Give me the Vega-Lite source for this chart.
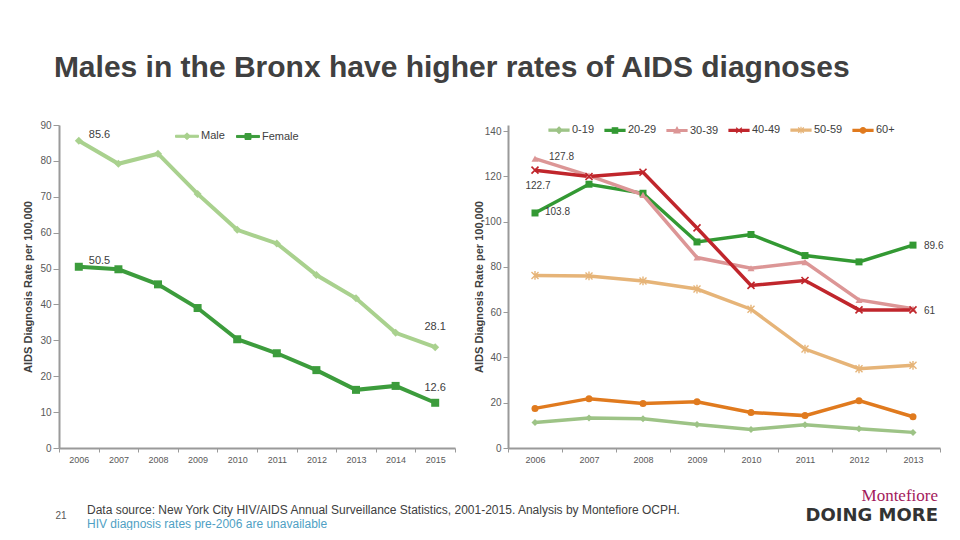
{
  "$schema": "https://vega.github.io/schema/vega-lite/v6.json",
  "background": "white",
  "padding": {"left": 22, "top": 53, "right": 0, "bottom": 0},
  "autosize": {"type": "pad"},
  "title": {
    "text": "Males in the Bronx have higher rates of AIDS diagnoses",
    "anchor": "start", "frame": "bounds", "dx": 31, "offset": 36,
    "fontSize": 30, "fontWeight": "bold", "color": "#404040", "font": "Liberation Sans"
  },
  "spacing": 53,
  "bounds": "flush",
  "resolve": {"scale": {"color": "independent"}, "legend": {"color": "independent"}},
  "hconcat": [
    {
      "width": 396, "height": 323,
      "title": {
        "text": "Data source: New York City HIV/AIDS Annual Surveillance Statistics, 2001-2015. Analysis by Montefiore OCPH.",
        "subtitle": "HIV diagnosis rates pre-2006 are unavailable",
        "orient": "bottom", "anchor": "start", "frame": "group", "dx": 28, "offset": -16,
        "fontSize": 12, "fontWeight": "normal", "color": "#404040", "font": "Liberation Sans",
        "subtitleColor": "#4f9fc4", "subtitleFontSize": 12, "subtitleFont": "Liberation Sans", "subtitlePadding": 2
      },
      "data": {"values": [
        {"year": "2006", "sex": "Male", "rate": 85.6},
        {"year": "2007", "sex": "Male", "rate": 79.2},
        {"year": "2008", "sex": "Male", "rate": 82.0},
        {"year": "2009", "sex": "Male", "rate": 70.8},
        {"year": "2010", "sex": "Male", "rate": 60.8},
        {"year": "2011", "sex": "Male", "rate": 57.0},
        {"year": "2012", "sex": "Male", "rate": 48.2},
        {"year": "2013", "sex": "Male", "rate": 41.7},
        {"year": "2014", "sex": "Male", "rate": 32.1},
        {"year": "2015", "sex": "Male", "rate": 28.1},
        {"year": "2006", "sex": "Female", "rate": 50.5},
        {"year": "2007", "sex": "Female", "rate": 49.8},
        {"year": "2008", "sex": "Female", "rate": 45.6},
        {"year": "2009", "sex": "Female", "rate": 39.0},
        {"year": "2010", "sex": "Female", "rate": 30.3},
        {"year": "2011", "sex": "Female", "rate": 26.4},
        {"year": "2012", "sex": "Female", "rate": 21.7},
        {"year": "2013", "sex": "Female", "rate": 16.2},
        {"year": "2014", "sex": "Female", "rate": 17.3},
        {"year": "2015", "sex": "Female", "rate": 12.6}
      ]},
      "encoding": {
        "x": {"field": "year", "type": "ordinal", "scale": {"type": "band", "paddingInner": 0, "paddingOuter": 0},
              "axis": {"title": null, "labelAngle": 0, "tickBand": "extent", "tickSize": 4, "labelPadding": 3, "labelFontSize": 9}},
        "y": {"field": "rate", "type": "quantitative", "scale": {"domain": [0, 90], "nice": false},
              "axis": {"title": "AIDS Diagnosis Rate per 100,000", "values": [0, 10, 20, 30, 40, 50, 60, 70, 80, 90], "tickSize": 6, "labelPadding": 2, "titlePadding": 6}}
      },
      "layer": [
        {
          "mark": {"type": "line", "strokeWidth": 4},
          "encoding": {
            "color": {"field": "sex", "type": "nominal",
              "scale": {"domain": ["Male", "Female"], "range": ["#a9d18e", "#3c9c3c"]},
              "legend": {
                "title": null, "orient": "none", "direction": "horizontal", "legendX": 116, "legendY": -1,
                "labelFontSize": 11, "labelColor": "#404040", "labelFont": "Liberation Sans", "labelOffset": 2,
                "columnPadding": 9, "symbolSize": 529, "padding": 0,
                "encode": {"symbols": {"update": {
                  "shape": {"signal": "datum.value == 'Male' ? 'M-1,-0.09H1V0.09H-1Z M0,-0.3L0.3,0L0,0.3L-0.3,0Z' : 'M-1,-0.09H1V0.09H-1Z M-0.26,-0.26H0.26V0.26H-0.26Z'"},
                  "fill": {"signal": "datum.value == 'Male' ? '#a9d18e' : '#3c9c3c'"},
                  "stroke": {"signal": "datum.value == 'Male' ? '#a9d18e' : '#3c9c3c'"},
                  "strokeWidth": {"value": 1},
                  "opacity": {"value": 1}
                }}}
              }}
          }
        },
        {
          "transform": [{"filter": "datum.sex == 'Male'"}],
          "mark": {"type": "point", "shape": "diamond", "filled": true, "opacity": 1, "size": 64, "color": "#a9d18e"},
          "encoding": {}
        },
        {
          "transform": [{"filter": "datum.sex == 'Female'"}],
          "mark": {"type": "point", "shape": "square", "filled": true, "opacity": 1, "size": 64, "color": "#3c9c3c"},
          "encoding": {}
        },
        {
          "transform": [{"filter": "datum.year == '2006'"}],
          "mark": {"type": "text", "align": "left", "baseline": "middle", "dx": 10, "dy": -6, "fontSize": 11, "color": "#404040", "font": "Liberation Sans"},
          "encoding": {"text": {"field": "rate", "type": "nominal"}}
        },
        {
          "transform": [{"filter": "datum.year == '2015' && datum.sex == 'Male'"}],
          "mark": {"type": "text", "align": "center", "baseline": "middle", "dx": 0, "dy": -20, "fontSize": 11, "color": "#404040", "font": "Liberation Sans"},
          "encoding": {"text": {"field": "rate", "type": "nominal"}}
        },
        {
          "transform": [{"filter": "datum.year == '2015' && datum.sex == 'Female'"}],
          "mark": {"type": "text", "align": "center", "baseline": "middle", "dx": 0, "dy": -15, "fontSize": 11, "color": "#404040", "font": "Liberation Sans"},
          "encoding": {"text": {"field": "rate", "type": "nominal"}}
        },
        {
          "data": {"values": [{"page": "21"}]},
          "mark": {"type": "text", "align": "center", "baseline": "middle", "fontSize": 10, "color": "#595959", "font": "Liberation Sans"},
          "encoding": {"x": {"value": 2}, "y": {"value": 391}, "text": {"field": "page", "type": "nominal"}}
        }
      ]
    },
    {
      "width": 432, "height": 323,
      "title": {
        "text": "Montefiore", "subtitle": "DOING MORE",
        "orient": "bottom", "anchor": "end", "frame": "group", "dx": -2, "offset": 24,
        "font": "Liberation Serif", "fontSize": 17, "fontWeight": "normal", "color": "#a3195b",
        "subtitleFont": "DejaVu Sans", "subtitleFontSize": 18, "subtitleFontWeight": "bold", "subtitleColor": "#333333", "subtitlePadding": 2
      },
      "data": {"values": [
        {"year": "2006", "age": "0-19", "rate": 11.3},
        {"year": "2007", "age": "0-19", "rate": 13.2},
        {"year": "2008", "age": "0-19", "rate": 12.9},
        {"year": "2009", "age": "0-19", "rate": 10.4},
        {"year": "2010", "age": "0-19", "rate": 8.2},
        {"year": "2011", "age": "0-19", "rate": 10.3},
        {"year": "2012", "age": "0-19", "rate": 8.5},
        {"year": "2013", "age": "0-19", "rate": 6.9},
        {"year": "2006", "age": "20-29", "rate": 103.8},
        {"year": "2007", "age": "20-29", "rate": 116.5},
        {"year": "2008", "age": "20-29", "rate": 112.5},
        {"year": "2009", "age": "20-29", "rate": 91.0},
        {"year": "2010", "age": "20-29", "rate": 94.3},
        {"year": "2011", "age": "20-29", "rate": 85.0},
        {"year": "2012", "age": "20-29", "rate": 82.2},
        {"year": "2013", "age": "20-29", "rate": 89.6},
        {"year": "2006", "age": "30-39", "rate": 127.8},
        {"year": "2007", "age": "30-39", "rate": 120.3},
        {"year": "2008", "age": "30-39", "rate": 111.8},
        {"year": "2009", "age": "30-39", "rate": 84.1},
        {"year": "2010", "age": "30-39", "rate": 79.4},
        {"year": "2011", "age": "30-39", "rate": 82.1},
        {"year": "2012", "age": "30-39", "rate": 65.4},
        {"year": "2013", "age": "30-39", "rate": 61.5},
        {"year": "2006", "age": "40-49", "rate": 122.7},
        {"year": "2007", "age": "40-49", "rate": 119.9},
        {"year": "2008", "age": "40-49", "rate": 121.8},
        {"year": "2009", "age": "40-49", "rate": 97.2},
        {"year": "2010", "age": "40-49", "rate": 71.8},
        {"year": "2011", "age": "40-49", "rate": 74.0},
        {"year": "2012", "age": "40-49", "rate": 61.0},
        {"year": "2013", "age": "40-49", "rate": 61},
        {"year": "2006", "age": "50-59", "rate": 76.2},
        {"year": "2007", "age": "50-59", "rate": 76.0},
        {"year": "2008", "age": "50-59", "rate": 73.8},
        {"year": "2009", "age": "50-59", "rate": 70.2},
        {"year": "2010", "age": "50-59", "rate": 61.3},
        {"year": "2011", "age": "50-59", "rate": 43.7},
        {"year": "2012", "age": "50-59", "rate": 35.0},
        {"year": "2013", "age": "50-59", "rate": 36.5},
        {"year": "2006", "age": "60+", "rate": 17.5},
        {"year": "2007", "age": "60+", "rate": 21.8},
        {"year": "2008", "age": "60+", "rate": 19.7},
        {"year": "2009", "age": "60+", "rate": 20.4},
        {"year": "2010", "age": "60+", "rate": 15.7},
        {"year": "2011", "age": "60+", "rate": 14.3},
        {"year": "2012", "age": "60+", "rate": 20.9},
        {"year": "2013", "age": "60+", "rate": 13.8}
      ]},
      "encoding": {
        "x": {"field": "year", "type": "ordinal", "scale": {"type": "band", "paddingInner": 0, "paddingOuter": 0},
              "axis": {"title": null, "labelAngle": 0, "tickBand": "extent", "tickSize": 4, "labelPadding": 3, "labelFontSize": 9}},
        "y": {"field": "rate", "type": "quantitative", "scale": {"domain": [0, 142.65], "nice": false},
              "axis": {"title": "AIDS Diagnosis Rate per 100,000", "values": [0, 20, 40, 60, 80, 100, 120, 140], "tickSize": 5, "labelPadding": 2, "titlePadding": 0}}
      },
      "layer": [
        {
          "mark": {"type": "line", "strokeWidth": 3.5},
          "encoding": {
            "color": {"field": "age", "type": "nominal",
              "scale": {"domain": ["0-19", "20-29", "30-39", "40-49", "50-59", "60+"], "range": ["#9dc386", "#339933", "#dc9696", "#c0262c", "#e6b478", "#e07a1e"]},
              "legend": {
                "title": null, "orient": "none", "direction": "horizontal", "legendX": 40, "legendY": -6,
                "labelFontSize": 11, "labelColor": "#404040", "labelFont": "Liberation Sans", "labelOffset": 2,
                "columnPadding": 7, "symbolSize": 400, "padding": 0,
                "encode": {"symbols": {"update": {
                  "shape": {"signal": "datum.value == '0-19' ? 'M-1,-0.1H1V0.1H-1Z M0,-0.32L0.32,0L0,0.32L-0.32,0Z' : datum.value == '20-29' ? 'M-1,-0.1H1V0.1H-1Z M-0.27,-0.27H0.27V0.27H-0.27Z' : datum.value == '30-39' ? 'M-1,-0.1H1V0.1H-1Z M0,-0.32L0.3,0.24H-0.3Z' : datum.value == '40-49' ? 'M-1,-0.1H1V0.1H-1Z M-0.28,-0.28L0.28,0.28M0.28,-0.28L-0.28,0.28' : datum.value == '50-59' ? 'M-1,-0.1H1V0.1H-1Z M-0.28,-0.28L0.28,0.28M0.28,-0.28L-0.28,0.28M0,-0.34V0.34' : 'M-1,-0.1H1V0.1H-1Z M0.28,0A0.28,0.28 0 1,1 -0.28,0A0.28,0.28 0 1,1 0.28,0Z'"},
                  "fill": {"signal": "datum.value == '0-19' ? '#9dc386' : datum.value == '20-29' ? '#339933' : datum.value == '30-39' ? '#dc9696' : datum.value == '40-49' ? '#c0262c' : datum.value == '50-59' ? '#e6b478' : '#e07a1e'"},
                  "stroke": {"signal": "datum.value == '0-19' ? '#9dc386' : datum.value == '20-29' ? '#339933' : datum.value == '30-39' ? '#dc9696' : datum.value == '40-49' ? '#c0262c' : datum.value == '50-59' ? '#e6b478' : '#e07a1e'"},
                  "strokeWidth": {"value": 1.2},
                  "opacity": {"value": 1}
                }}}
              }}
          }
        },
        {
          "transform": [{"filter": "datum.age == '0-19'"}],
          "mark": {"type": "point", "shape": "diamond", "filled": true, "opacity": 1, "size": 49, "color": "#9dc386"},
          "encoding": {}
        },
        {
          "transform": [{"filter": "datum.age == '20-29'"}],
          "mark": {"type": "point", "shape": "square", "filled": true, "opacity": 1, "size": 49, "color": "#339933"},
          "encoding": {}
        },
        {
          "transform": [{"filter": "datum.age == '30-39'"}],
          "mark": {"type": "point", "shape": "triangle-up", "filled": true, "opacity": 1, "size": 49, "color": "#dc9696"},
          "encoding": {}
        },
        {
          "transform": [{"filter": "datum.age == '40-49'"}],
          "mark": {"type": "point", "shape": "M-1,-1L1,1M1,-1L-1,1", "filled": false, "opacity": 1, "size": 49, "strokeWidth": 1.6, "color": "#c0262c"},
          "encoding": {}
        },
        {
          "transform": [{"filter": "datum.age == '50-59'"}],
          "mark": {"type": "point", "shape": "M-1,-1L1,1M1,-1L-1,1M0,-1.25V1.25", "filled": false, "opacity": 1, "size": 49, "strokeWidth": 1.4, "color": "#e6b478"},
          "encoding": {}
        },
        {
          "transform": [{"filter": "datum.age == '60+'"}],
          "mark": {"type": "point", "shape": "circle", "filled": true, "opacity": 1, "size": 49, "color": "#e07a1e"},
          "encoding": {}
        },
        {
          "transform": [{"filter": "datum.year == '2006' && datum.age == '30-39'"}],
          "mark": {"type": "text", "align": "left", "baseline": "middle", "dx": 14, "dy": -2, "fontSize": 10, "color": "#404040", "font": "Liberation Sans"},
          "encoding": {"text": {"field": "rate", "type": "nominal"}}
        },
        {
          "transform": [{"filter": "datum.year == '2006' && datum.age == '40-49'"}],
          "mark": {"type": "text", "align": "center", "baseline": "middle", "dx": 3, "dy": 16, "fontSize": 10, "color": "#404040", "font": "Liberation Sans"},
          "encoding": {"text": {"field": "rate", "type": "nominal"}}
        },
        {
          "transform": [{"filter": "datum.year == '2006' && datum.age == '20-29'"}],
          "mark": {"type": "text", "align": "left", "baseline": "middle", "dx": 10, "dy": -1, "fontSize": 10, "color": "#404040", "font": "Liberation Sans"},
          "encoding": {"text": {"field": "rate", "type": "nominal"}}
        },
        {
          "transform": [{"filter": "datum.year == '2013' && (datum.age == '20-29' || datum.age == '40-49')"}],
          "mark": {"type": "text", "align": "left", "baseline": "middle", "dx": 11, "dy": 1, "fontSize": 10, "color": "#404040", "font": "Liberation Sans"},
          "encoding": {"text": {"field": "rate", "type": "nominal"}}
        }
      ]
    }
  ],
  "config": {
    "view": {"stroke": null},
    "font": "Liberation Sans",
    "axis": {
      "grid": false, "domainColor": "#9a9a9a", "domainWidth": 2, "tickColor": "#9a9a9a", "tickWidth": 1,
      "labelColor": "#595959", "labelFontSize": 10, "labelFont": "Liberation Sans",
      "titleFontSize": 11, "titleColor": "#404040", "titleFontWeight": "bold", "titleFont": "Liberation Sans"
    }
  }
}
